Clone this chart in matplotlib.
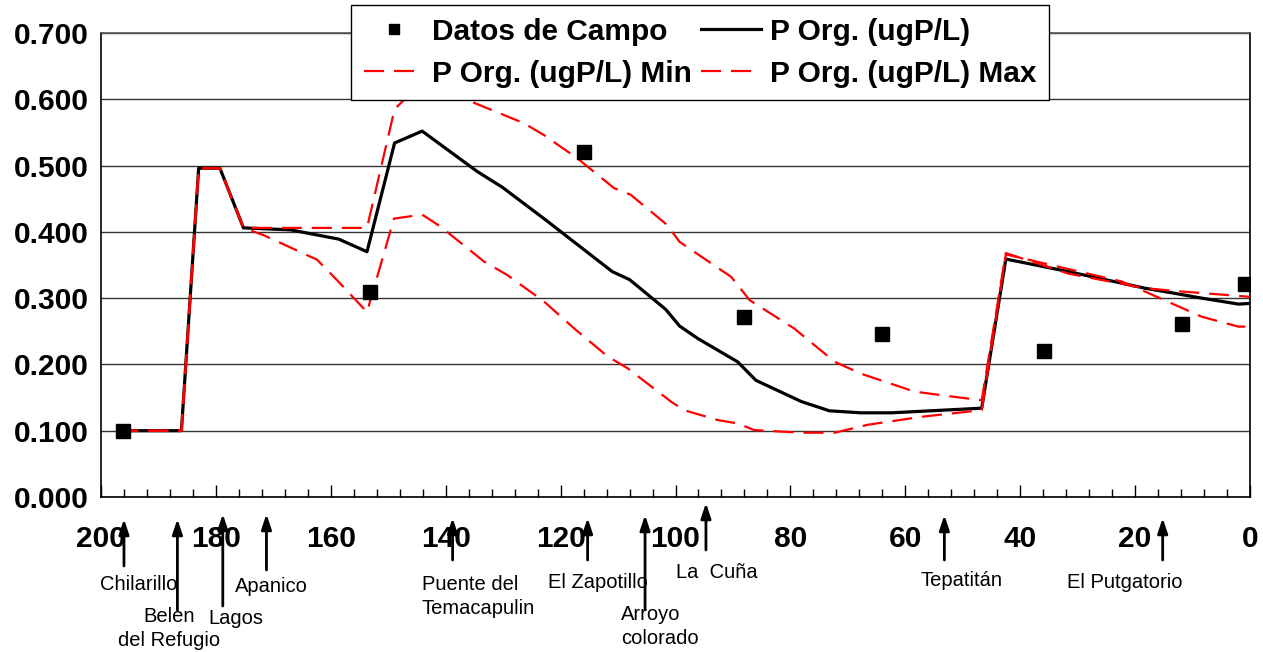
import matplotlib
matplotlib.use("Agg")
import matplotlib.pyplot as plt
from matplotlib.ticker import MultipleLocator, FormatStrFormatter

plt.rcParams['font.family'] = ['Liberation Sans', 'DejaVu Sans']

# Field data
campo_km = [196.2, 153.1, 116.0, 88.1, 64.0, 35.9, 11.9, 0.9]
campo_val = [0.100, 0.310, 0.520, 0.271, 0.246, 0.220, 0.261, 0.321]

# Model P Org.
porg_km = [197, 186, 183, 179.3, 175.2, 167, 158.6, 153.7, 148.9, 144.1, 134.5, 130.1,
           122.6, 111, 108, 101.7, 99.3, 96.1, 89.2, 86, 78.1, 73.2, 67.7, 62.4, 46.7,
           42.5, 31.6, 18.3, 13.6, 8.4, 2, 0]
porg_val = [0.100, 0.100, 0.496, 0.496, 0.406, 0.403, 0.389, 0.370, 0.534, 0.552, 0.491, 0.467,
            0.418, 0.340, 0.328, 0.283, 0.258, 0.239, 0.204, 0.176, 0.144, 0.130, 0.127, 0.127, 0.134,
            0.359, 0.340, 0.315, 0.308, 0.300, 0.291, 0.292]

# Min
pmin_km = [197, 186, 183, 179.3, 175.2, 171.7, 162.4, 158.9, 153.7, 149, 144.1, 140.9, 133.3,
           129.3, 122.9, 117.6, 111.8, 108.3, 100.8, 98.5, 92.6, 89.2, 86.3, 78.1, 72.3, 66.5,
           57.2, 46.7, 42.5, 22.3, 18.3, 8.4, 2, 0.8]
pmin_val = [0.100, 0.100, 0.496, 0.496, 0.406, 0.395, 0.358, 0.327, 0.279, 0.420, 0.426, 0.408, 0.355,
            0.335, 0.295, 0.254, 0.212, 0.194, 0.144, 0.131, 0.116, 0.111, 0.101, 0.097, 0.097, 0.109,
            0.121, 0.131, 0.366, 0.325, 0.310, 0.272, 0.257, 0.257]

# Max
pmax_km = [197, 186, 183, 179.3, 175.2, 167, 153.7, 148.9, 146.7, 144.1, 137.7, 126.4, 122.9,
           117.1, 110.7, 107.8, 101.4, 99.3, 90.3, 87.1, 79.3, 72.3, 67.7, 58.4, 51.4, 46.7,
           42.5, 31.6, 18.3, 11.9, 0]
pmax_val = [0.100, 0.100, 0.496, 0.496, 0.406, 0.406, 0.406, 0.585, 0.604, 0.625, 0.604, 0.564, 0.546,
            0.511, 0.466, 0.456, 0.410, 0.385, 0.332, 0.297, 0.254, 0.204, 0.186, 0.159, 0.151, 0.146,
            0.368, 0.337, 0.315, 0.310, 0.302]

# Stations
station_km = [196.0, 186.7, 178.8, 171.2, 138.8, 115.3, 105.3, 94.7, 53.2, 15.2]
station_names = ["Chilarillo", "Belen\ndel Refugio", "Lagos", "Apanico", "Puente del\nTemacapulin",
                 "El Zapotillo", "Arroyo\ncolorado", "La  Cuña", "Tepatitán", "El Putgatorio"]
station_tail = [566, 610, 606, 570, 560, 560, 610, 550, 560, 560]
station_tip = [519, 519, 514, 514, 518, 518, 515, 503, 515, 518]
station_lx = [139, 169, 236, 271, 422, 598, 621, 717, 962, 1125]
station_ly = [585, 616, 618, 586, 585, 583, 615, 572, 580, 583]   # first-line centre
station_ha = ['center', 'center', 'center', 'center', 'left', 'center', 'left', 'center',
              'center', 'center']

W, H = 1263, 652
fig = plt.figure(figsize=(W / 100, H / 100), dpi=100)
ax = fig.add_axes([101 / W, 1 - 497 / H, (1250 - 101) / W, (497 - 33) / H])

ln_org, = ax.plot(porg_km, porg_val, color='black', lw=2.3, zorder=3, label='P Org. (ugP/L)')
ln_min, = ax.plot(pmin_km, pmin_val, color='red', lw=1.6, dashes=(9, 4.5), zorder=4,
                  label='P Org. (ugP/L) Min')
ln_max, = ax.plot(pmax_km, pmax_val, color='red', lw=1.6, dashes=(9, 4.5), zorder=4,
                  label='P Org. (ugP/L) Max')
sc, = ax.plot(campo_km, campo_val, 's', color='black', ms=9.5, ls='none', zorder=5,
              label='Datos de Campo')

ax.set_xlim(200, 0)
ax.set_ylim(0, 0.7)
ax.yaxis.set_major_locator(MultipleLocator(0.1))
ax.yaxis.set_major_formatter(FormatStrFormatter('%.3f'))
ax.xaxis.set_major_locator(MultipleLocator(20))
ax.xaxis.set_minor_locator(MultipleLocator(4))
ax.grid(axis='y', color='#333333', lw=1.0)
ax.set_axisbelow(True)
for s in ax.spines.values():
    s.set_color('black')
    s.set_linewidth(1.2)
ax.spines['top'].set_color('#555555')

ax.tick_params(axis='x', which='major', direction='in', length=9, width=1, pad=20,
               labelsize=21.5)
ax.tick_params(axis='x', which='minor', direction='in', length=6, width=1)
ax.tick_params(axis='y', which='major', direction='out', length=0, pad=9, labelsize=21.5)
for lab in ax.get_xticklabels() + ax.get_yticklabels():
    lab.set_fontweight('bold')

xt = ax.get_xaxis_transform()
def yfrac(py):
    return (497 - py) / (497 - 33)
for km, name, tail, tip, lx, ly, ha in zip(station_km, station_names, station_tail, station_tip,
                                            station_lx, station_ly, station_ha):
    ax.annotate('', xy=(km, yfrac(tip)), xytext=(km, yfrac(tail)), xycoords=xt, textcoords=xt,
                arrowprops=dict(arrowstyle='-|>,head_length=0.9,head_width=0.3', color='black',
                                lw=2.0, shrinkA=0, shrinkB=0), annotation_clip=False)
    for i, line in enumerate(name.split("\n")):
        fig.text(lx / W, 1 - (ly + 24 * i) / H, line, ha=ha, va='center', fontsize=14.5)

leg = fig.legend(handles=[sc, ln_min, ln_org, ln_max], ncol=2, loc='upper center',
                 bbox_to_anchor=(700 / W, 1 - 5 / H), frameon=True, fancybox=False,
                 framealpha=1.0, prop={'weight': 'bold', 'size': 21.5}, handlelength=2.0,
                 handletextpad=0.3, columnspacing=0.3, borderpad=0.42, labelspacing=0.47,
                 markerscale=0.75, borderaxespad=0)
leg.get_frame().set_edgecolor('black')
leg.get_frame().set_linewidth(1.0)
leg.set_zorder(10)

fig.savefig('out.png', dpi=100)
